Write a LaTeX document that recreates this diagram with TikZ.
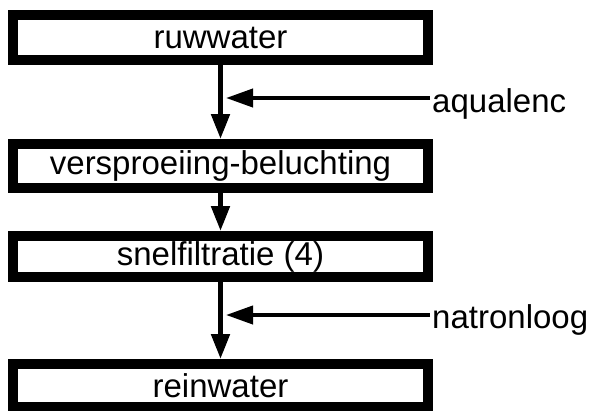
\documentclass[tikz,border=0pt]{standalone}
\usepackage{fontspec}
\setmainfont{Liberation Sans}
\usetikzlibrary{arrows.meta}
\begin{document}
\begin{tikzpicture}[x=1pt,y=1pt,
  box/.style={draw, line width=10pt, minimum width=415pt, inner sep=0pt,
    font=\fontsize{33}{36}\selectfont},
  flow/.style={line width=5pt, -{Triangle[length=25pt,width=18pt]}},
  feed/.style={line width=4pt, -{Triangle[length=27pt,width=18pt]}},
  lab/.style={anchor=base west, inner sep=2pt, font=\fontsize{33}{36}\selectfont}]
\useasboundingbox (0,0) rectangle (593,-410);
\node[box, minimum height=45pt] (r) at (220.5,-37.5) {ruwwater};
\node[box, minimum height=44pt] (v) at (220.5,-166) {versproeiing-beluchting};
\node[box, minimum height=41pt] (s) at (220.5,-256.5) {snelfiltratie (4)};
\node[box, minimum height=43pt] (w) at (220.5,-385.5) {reinwater};
\node[lab] (aq) at (430,-112) {aqualenc};
\node[lab] (na) at (430,-328) {natronloog};
\coordinate (aqt) at (226,-98);
\coordinate (nat) at (226,-315);
\draw[flow] (r.south) -- (v.north);
\draw[flow] (v.south) -- (s.north);
\draw[flow] (s.south) -- (w.north);
\draw[feed] (aq.west |- aqt) -- (aqt);
\draw[feed] (na.west |- nat) -- (nat);
\end{tikzpicture}
\end{document}
